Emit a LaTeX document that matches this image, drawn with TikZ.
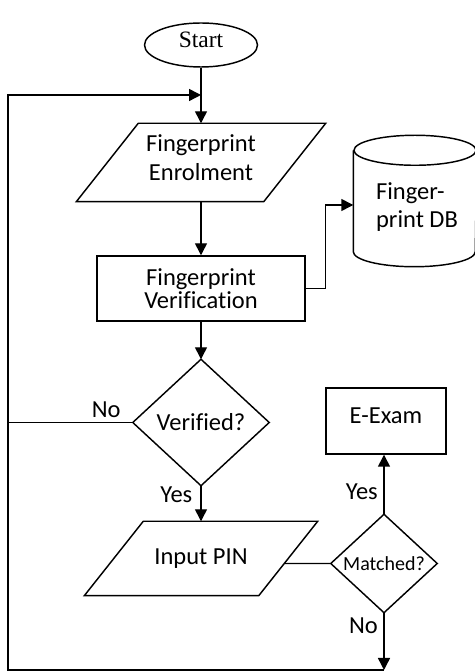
\documentclass[tikz,border=0pt]{standalone}
\usepackage{fontspec}
\setmainfont{Carlito}[Ligatures=NoCommon]
\newfontfamily\startfont{Liberation Serif}
\usetikzlibrary{arrows.meta,calc,shapes.geometric}
\begin{document}
\begin{tikzpicture}[x=1pt,y=1pt,
  line width=1.45pt,
  arr/.style={-{Triangle[length=12pt,width=12pt]}},
  txt/.style={font=\fontsize{24.5}{29.3}\selectfont, align=center, inner sep=0pt},
  lbl/.style={font=\fontsize{24.5}{29.3}\selectfont, inner sep=0pt},
  frame/.style={draw=none, inner sep=0pt}]
\useasboundingbox (0,0) rectangle (474,672);

% terminator
\node[draw, ellipse, minimum width=113, minimum height=44, inner sep=0pt,
      font=\startfont\fontsize{23.5}{28}\selectfont, text depth=10pt] (start) at (201,627) {Start};

% enrolment (input/output parallelogram)
\node[frame, minimum width=248, minimum height=77] (enr) at (201,509.5) {};
\draw (enr.south west) -- ([xshift=62]enr.north west) -- (enr.north east)
      -- ([xshift=-62]enr.south east) -- cycle;
\node[txt] (enrtxt) at ([yshift=5]enr.center) {Fingerprint\\Enrolment};

% database cylinder
\node[frame, minimum width=122, minimum height=130] (db) at (415,471) {};
\draw ([yshift=-15]db.north west) -- ([yshift=15]db.south west)
      arc[start angle=180, end angle=360, x radius=61, y radius=15]
      -- ([yshift=-15]db.north east);
\draw ([yshift=-15]db.north) ellipse [x radius=61, y radius=15];
\node[txt, align=left, font=\fontsize{24.5}{27.5}\selectfont] (dbtxt)
      at ([xshift=2,yshift=-6]db.center) {Finger-\\print DB};

% verification process
\node[draw, txt, font=\fontsize{24.5}{23.5}\selectfont,
      minimum width=208, minimum height=65] (ver) at (201,383.5) {Fingerprint\\Verification};

% decision: verified?
\node[frame, txt, minimum width=135, minimum height=125] (vq) at (201,249.5) {Verified?};
\draw (vq.north) -- (vq.east) -- (vq.south) -- (vq.west) -- cycle;

% exam process
\node[draw, txt, minimum width=120, minimum height=66, text depth=11pt] (exam) at (386,251) {E-Exam};

% PIN input parallelogram
\node[frame, txt, minimum width=232, minimum height=73] (pin) at (201,113.5) {Input PIN};
\draw (pin.south west) -- ([xshift=59]pin.north west) -- (pin.north east)
      -- ([xshift=-59]pin.south east) -- cycle;

% decision: matched?
\node[frame, font=\fontsize{20}{24}\selectfont, minimum width=105, minimum height=97] (mat) at (384,108.5) {Matched?};
\draw (mat.north) -- (mat.east) -- (mat.south) -- (mat.west) -- cycle;

% helper points
\coordinate (pinne) at (pin.north east);
\coordinate (pinse) at ([xshift=-59]pin.south east);
\coordinate (mw) at (mat.west);
\coordinate (pw) at (mat.west -| pin.west);
\coordinate (bl) at (8,2);
\coordinate (tl) at (8,577);
\coordinate (join) at (start.south |- tl);
\coordinate (br) at (mat.south |- bl);

% connectors
\draw[arr] (start.south) -- (enr.north);
\draw[arr] (enr.south) -- (ver.north);
\draw[arr] (ver.south) -- (vq.north);
\draw[arr] (vq.south) -- (pin.north);
\draw[arr] (ver.east) -- ++(20,0) |- ([yshift=-4]db.west);
\draw (vq.west) -- (vq.west -| tl);
\draw (mw) -- (intersection of mw--pw and pinne--pinse);
\draw[arr] (mat.north) -- (mat.north |- exam.south);
\draw[arr] (mat.south) -- (br);
\draw[arr] (br) -- (bl) -- (tl) -- (join);

% branch labels
\node[lbl, anchor=base east] (noV) at ([xshift=-11.5,yshift=5]vq.west) {No};
\node[lbl, anchor=base east] (yesV) at ([xshift=-8,yshift=-17]vq.south) {Yes};
\node[lbl, anchor=base east] (yesM) at ([xshift=-5.5,yshift=15]mat.north) {Yes};
\node[lbl, anchor=base east] (noM) at ([xshift=-5.5,yshift=-21]mat.south) {No};
\end{tikzpicture}
\end{document}
